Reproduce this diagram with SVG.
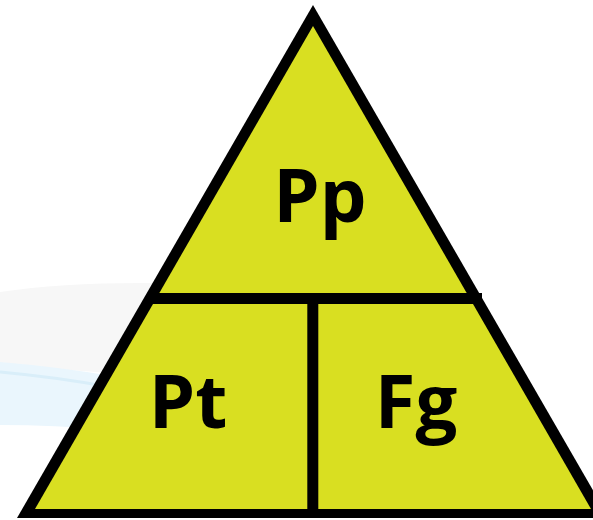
<svg xmlns="http://www.w3.org/2000/svg" width="593" height="520" viewBox="0 0 593 520">
  <style>
    .lbl { font-family: "Open Sans", "Liberation Sans", sans-serif; font-weight: bold; font-size: 74px; fill: #000; text-anchor: middle; }
    .div { stroke: #000; stroke-width: 11; fill: none; }
  </style>
  <rect width="593" height="520" fill="#ffffff"/>
  <g id="watermark">
    <path d="M0,292 Q80,280 200,284 L200,380 Q100,372 0,365 Z" fill="#f7f7f7"/>
    <path d="M0,362 Q120,372 220,400 L220,445 Q110,425 0,425 Z" fill="#eaf6fd"/>
    <path d="M0,372 Q110,382 220,412" stroke="#d9eef9" stroke-width="3" fill="none"/>
  </g>
  <g id="triangle">
    <polygon points="313,5 17,518 609,518" fill="#000"/>
    <polygon points="313,26 35,509 591,509" fill="#d9df21"/>
  </g>
  <g id="connectors">
    <line class="div" x1="152" y1="298.5" x2="482" y2="298.5"/>
    <line class="div" x1="312.8" y1="298" x2="312.8" y2="512"/>
  </g>
  <g id="node-pp"><text class="lbl" x="320" y="222">Pp</text></g>
  <g id="node-pt"><text class="lbl" x="188" y="428">Pt</text></g>
  <g id="node-fg"><text class="lbl" x="416" y="428">Fg</text></g>
</svg>
